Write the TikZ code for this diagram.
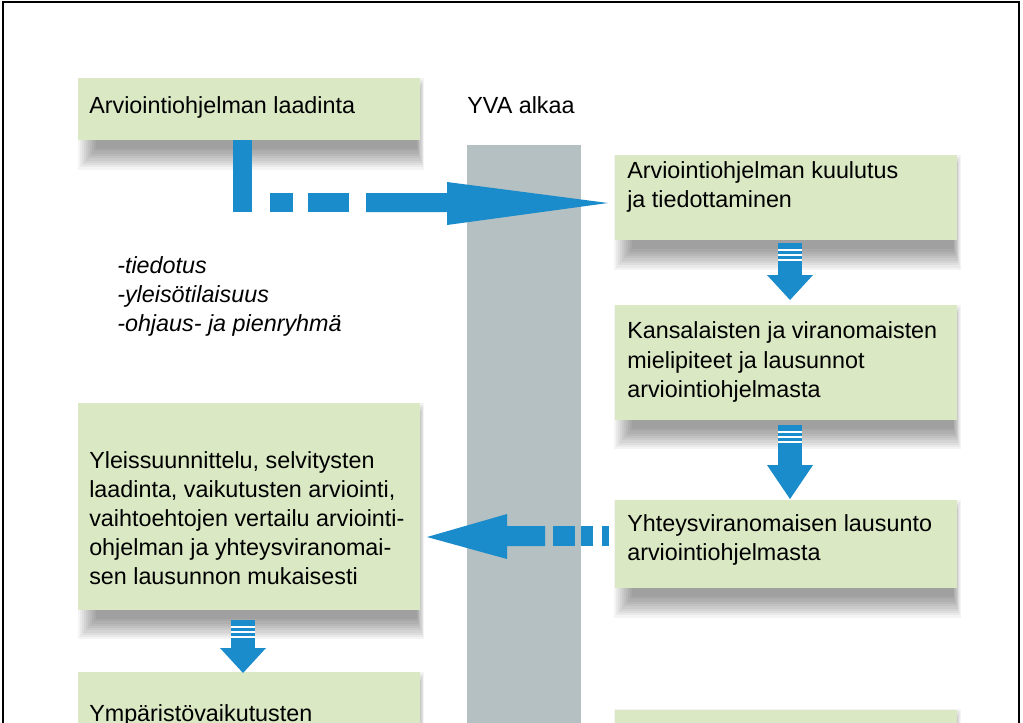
\documentclass[tikz,border=0pt]{standalone}
\usepackage{fontspec}
\setmainfont{Liberation Sans}
\usetikzlibrary{backgrounds}
\definecolor{boxg}{RGB}{218,232,196}
\definecolor{arrb}{RGB}{26,140,203}
\definecolor{barg}{RGB}{180,192,194}
\newcommand\myDnArrow[4]{%
  \fill[arrb] (#1-12,#2) rectangle (#1+12,#3);
  \fill[arrb] (#1-23,#3) -- (#1+23,#3) -- (#1,#4) -- cycle;
  \foreach \s in {7,12,17} \draw[white,line width=1.2pt] (#1-12,#2+\s) -- (#1+12,#2+\s);
}
\newcommand\boxShadow[1]{%
  \foreach \i in {0,...,9}
    \fill[black,opacity=0.045] ([xshift=1.5*\i pt,yshift=-1.5*\i pt]#1.north west) rectangle ([xshift=3pt-0.6*\i pt,yshift=-22pt+1.7*\i pt]#1.south east);
}
\begin{document}
\begin{tikzpicture}[x=0.75pt,y=-0.75pt,
  box/.style={fill=boxg,draw=none,inner sep=0pt,minimum width=256.5pt},
  txt/.style={font=\fontsize{17.5}{21.8}\selectfont,align=left,inner sep=0pt}]
\useasboundingbox (0,0) rectangle (1023,722);
\begin{scope}
\clip (0,0) rectangle (1023,722);
% boxes
\node[box,minimum height=46.5pt] (b1) at (249,109) {};
\node[box,minimum height=64pt] (b2) at (785.5,197.5) {};
\node[box,minimum height=86pt] (b3) at (785.5,362.5) {};
\node[box,minimum height=66pt] (b4) at (785.5,544) {};
\node[box,minimum height=155pt] (b5) at (249,506.5) {};
\node[box,minimum height=120pt] (b6) at (249,752) {};
\node[box,minimum height=80pt] (b7) at (785.5,763) {};
\begin{pgfonlayer}{background}
\fill[white] (0,0) rectangle (1023,722);
\fill[barg] (467,145) rectangle (581,760);
\boxShadow{b1}\boxShadow{b2}\boxShadow{b3}\boxShadow{b4}\boxShadow{b5}\boxShadow{b6}\boxShadow{b7}
\end{pgfonlayer}
\node[txt,anchor=center] (yva) at (521,105) {YVA alkaa};
\node[txt,anchor=west] (t1) at (89,107) {Arviointiohjelman laadinta};
\node[txt,anchor=west] (t2) at (627,187) {Arviointiohjelman kuulutus\\ja tiedottaminen};
\node[txt,anchor=west] (t3) at (627,362) {Kansalaisten ja viranomaisten\\mielipiteet ja lausunnot\\arviointiohjelmasta};
\node[txt,anchor=west] (t4) at (627,540) {Yhteysviranomaisen lausunto\\arviointiohjelmasta};
\node[txt,anchor=west] (t5) at (89,518) {Yleissuunnittelu, selvitysten\\laadinta, vaikutusten arviointi,\\vaihtoehtojen vertailu arviointi-\\ohjelman ja yhteysviranomai-\\sen lausunnon mukaisesti};
\node[txt,anchor=west] (t6) at (89,715) {Ympäristövaikutusten};
% list
\node[txt,anchor=north west,font=\itshape\fontsize{17.5}{21.8}\selectfont] (list) at (117,256) {-tiedotus\\-yleisötilaisuus\\-ohjaus- ja pienryhmä};
% big right arrow
\fill[arrb] (233,140) rectangle (252,212);
\fill[arrb] (270,193) rectangle (293,212);
\fill[arrb] (308,193) rectangle (349,212);
\fill[arrb] (366,193) -- (447,193) -- (447,182) -- (608,203) -- (447,225) -- (447,212) -- (366,212) -- cycle;
% big left arrow
\fill[arrb] (609,526) rectangle (602,546);
\fill[arrb] (593,526) rectangle (581,546);
\fill[arrb] (575,526) rectangle (553,546);
\fill[arrb] (545,526) -- (507,526) -- (507,514) -- (427,537) -- (507,559) -- (507,546) -- (545,546) -- cycle;
% small arrows
\myDnArrow{790}{243}{275}{300}
\myDnArrow{790}{425}{465}{499}
\myDnArrow{243}{620}{648}{673}
\end{scope}
\draw[line width=1.5pt] (3,2) rectangle (1019,760);
\end{tikzpicture}
\end{document}
